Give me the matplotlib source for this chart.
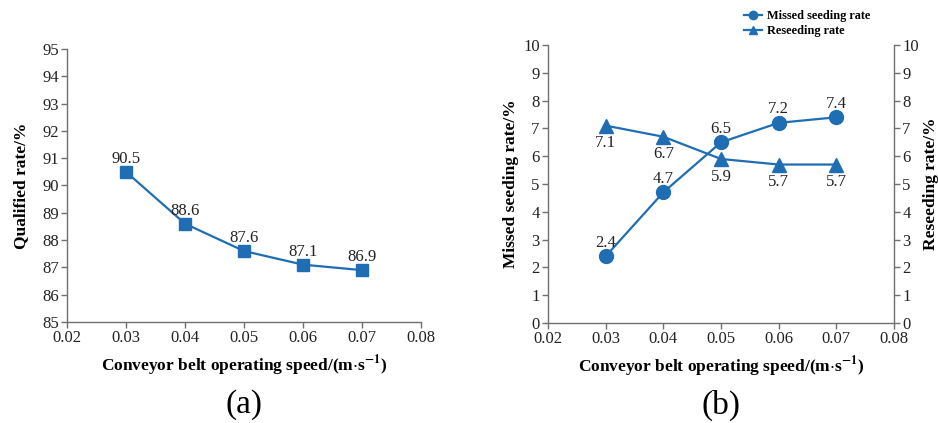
import matplotlib
matplotlib.use("Agg")
import matplotlib.pyplot as plt
from matplotlib.lines import Line2D

plt.rcParams['font.family'] = ['Liberation Serif', 'DejaVu Serif']
plt.rcParams['mathtext.fontset'] = 'stix'

speed = [0.03, 0.04, 0.05, 0.06, 0.07]
qualified = [90.5, 88.6, 87.6, 87.1, 86.9]
missed = [2.4, 4.7, 6.5, 7.2, 7.4]
reseeding = [7.1, 6.7, 5.9, 5.7, 5.7]
xticks = [0.02, 0.03, 0.04, 0.05, 0.06, 0.07, 0.08]

BLUE = '#1f6db3'
GREY = '#707070'
TICKFS = 12
LABFS = 12.5

fig = plt.figure(figsize=(9.38, 4.23), dpi=100)

def style(ax, sides):
    for s in ['top', 'right', 'left', 'bottom']:
        ax.spines[s].set_visible(s in sides)
        ax.spines[s].set_color(GREY)
        ax.spines[s].set_linewidth(1.0)
    ax.tick_params(colors='#222222', labelsize=TICKFS, direction='out', length=4, width=1.0, pad=2)
    ax.tick_params(axis='both', color=GREY)

XLAB = r'Conveyor belt operating speed/(m$\cdot$s$^{\mathbf{-1}}$)'

# (a)
ax1 = fig.add_axes([67/938, 1-322/423, (421-67)/938, (322-49)/423])
ax1.plot(speed, qualified, color=BLUE, marker='s', markersize=9, linewidth=1.6)
for x, y in zip(speed, qualified):
    ax1.annotate(f'{y}', (x, y), xytext=(0, 3.5), textcoords='offset points',
                 ha='center', va='bottom', fontsize=TICKFS, color='#222222')
ax1.set_xlim(0.02, 0.08)
ax1.set_ylim(85, 95)
ax1.set_xticks(xticks)
ax1.set_xticklabels([f'{v:.2f}' for v in xticks])
ax1.set_yticks(range(85, 96))
style(ax1, ['left', 'bottom'])
ax1.set_ylabel('Qualified rate/%', fontsize=LABFS, fontweight='bold', labelpad=9)
ax1.set_xlabel(XLAB, fontsize=LABFS, fontweight='bold', labelpad=5)
fig.text((67+421)/2/938, 1-405/423, '(a)', ha='center', va='center', fontsize=24)

# (b)
ax2 = fig.add_axes([548/938, 1-323/423, (894-548)/938, (323-45)/423])
ax2.plot(speed, missed, color=BLUE, marker='o', markersize=10, linewidth=1.6)
ax3 = ax2.twinx()
ax3.plot(speed, reseeding, color=BLUE, marker='^', markersize=10, linewidth=1.6)
for x, y in zip(speed, missed):
    ax2.annotate(f'{y}', (x, y), xytext=(0, 4), textcoords='offset points',
                 ha='center', va='bottom', fontsize=TICKFS, color='#222222')
for x, y in zip(speed, reseeding):
    ax3.annotate(f'{y}', (x, y), xytext=(0, -7), textcoords='offset points',
                 ha='center', va='top', fontsize=TICKFS, color='#222222')
for a in (ax2, ax3):
    a.set_xlim(0.02, 0.08)
    a.set_ylim(0, 10)
    a.set_yticks(range(0, 11))
ax2.set_xticks(xticks)
ax2.set_xticklabels([f'{v:.2f}' for v in xticks])
style(ax2, ['left', 'bottom'])
style(ax3, ['right'])
ax2.set_ylabel('Missed seeding rate/%', fontsize=LABFS, fontweight='bold', labelpad=3)
ax3.set_ylabel('Reseeding rate/%', fontsize=LABFS, fontweight='bold', labelpad=3)
ax2.set_xlabel(XLAB, fontsize=LABFS, fontweight='bold', labelpad=5)
fig.text((548+894)/2/938, 1-405/423, '(b)', ha='center', va='center', fontsize=24)

handles = [Line2D([], [], color=BLUE, marker='o', markersize=6, linewidth=1.6),
           Line2D([], [], color=BLUE, marker='^', markersize=6, linewidth=1.6)]
fig.legend(handles, ['Missed seeding rate', 'Reseeding rate'], loc='upper left',
           bbox_to_anchor=(744/938, 1-10/423), frameon=False,
           prop={'weight': 'bold', 'size': 8.8}, handlelength=1.5, handletextpad=0.4,
           labelspacing=0.25, borderpad=0, borderaxespad=0)

fig.savefig('out.png', dpi=100, facecolor='white')
